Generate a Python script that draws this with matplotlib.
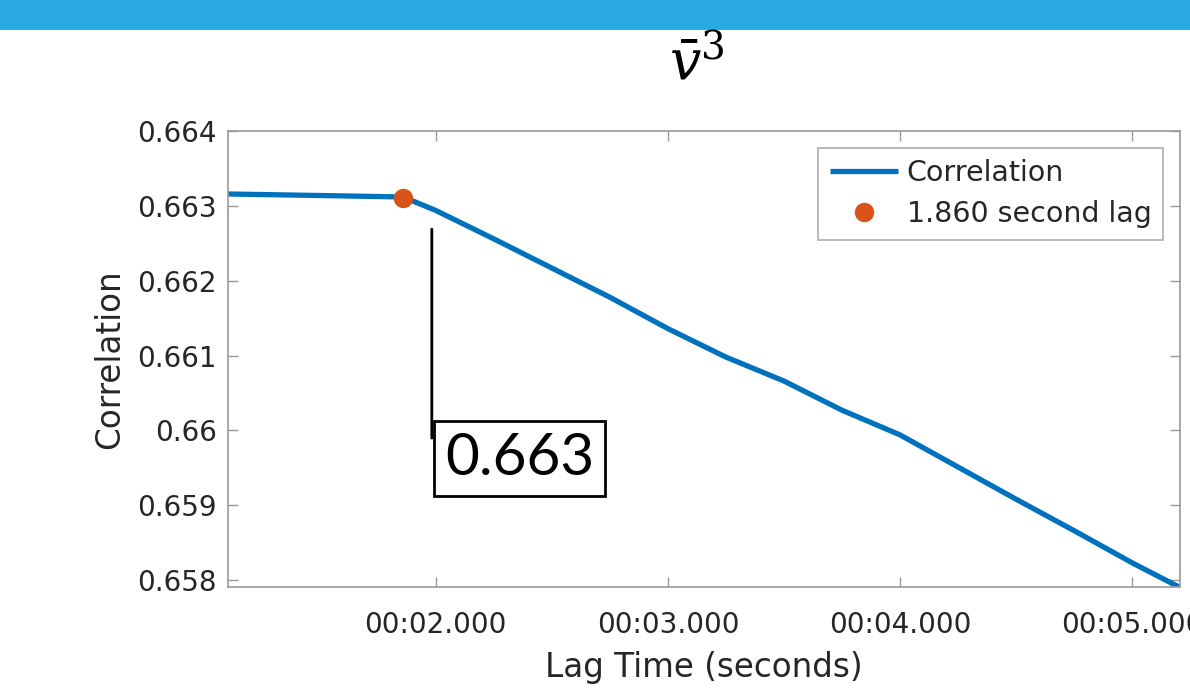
import matplotlib
matplotlib.use('Agg')
import matplotlib.pyplot as plt
from matplotlib.patches import Rectangle
from matplotlib.ticker import FixedLocator, FixedFormatter

# lag time (s) vs correlation
lag = [1.105, 1.50, 1.86, 2.0, 2.25, 2.5, 2.75, 3.0, 3.25, 3.5, 3.75,
       4.0, 4.25, 4.5, 4.75, 5.0, 5.2]
corr = [0.66316, 0.66314, 0.66312, 0.66294, 0.66256, 0.66217, 0.66178, 0.66136,
        0.66098, 0.66066, 0.66027, 0.65994, 0.65951, 0.65908, 0.65866, 0.65823,
        0.65791]
best_lag = 1.86
best_corr = 0.66311
note_x = 1.983
note_y = 0.66269
note_text = '0.663'

xticks = [2, 3, 4, 5]
xlabels = ['00:02.000', '00:03.000', '00:04.000', '00:05.000']
yticks = [0.658, 0.659, 0.660, 0.661, 0.662, 0.663, 0.664]
ylabels = ['0.658', '0.659', '0.66', '0.661', '0.662', '0.663', '0.664']

plt.rcParams['font.family'] = ['DejaVu Sans']
plt.rcParams['mathtext.fontset'] = 'dejavuserif'

fig = plt.figure(figsize=(11.9, 6.93), dpi=100)
fig.patches.append(Rectangle((0, 1 - 30 / 693), 1, 30 / 693, transform=fig.transFigure,
                             facecolor='#29a9e1', edgecolor='none'))
fig.text(697 / 1190, 1 - 64 / 693, r'$\bar{v}^3$', fontsize=40, ha='center', va='center')

ax = fig.add_axes([228 / 1190, 1 - 587 / 693, (1180 - 228) / 1190, (587 - 131) / 693])
ax.plot(lag, corr, color='#0072BD', lw=3.8, label='Correlation', solid_capstyle='butt')
ax.plot([best_lag], [best_corr], 'o', color='#D95319', ms=14, mec='none',
        label='%.3f second lag' % best_lag)

# callout: thin leader line down to a boxed value
ax.annotate('', xy=(note_x, note_y), xycoords='data',
            xytext=(0, -209), textcoords='offset pixels',
            arrowprops=dict(arrowstyle='-', color='black', lw=2, shrinkA=0, shrinkB=0))
ax.annotate(note_text, xy=(note_x, note_y), xycoords='data',
            xytext=(13, -203), textcoords='offset pixels',
            ha='left', va='top', fontsize=42, family='Lato', color='black',
            bbox=dict(boxstyle='square,pad=0.19', fc='white', ec='black', lw=2))

ax.set_xlim(1.105, 5.206)
ax.set_ylim(0.657907, 0.664002)
ax.xaxis.set_major_locator(FixedLocator(xticks))
ax.xaxis.set_major_formatter(FixedFormatter(xlabels))
ax.yaxis.set_major_locator(FixedLocator(yticks))
ax.yaxis.set_major_formatter(FixedFormatter(ylabels))
ax.tick_params(direction='in', length=7, width=1, color='#999999', labelcolor='#262626',
               labelsize=20, top=True, right=True)
ax.tick_params(axis='x', pad=17)
ax.tick_params(axis='y', pad=8)
for s in ax.spines.values():
    s.set_color('#999999')
    s.set_linewidth(1.2)
ax.set_xlabel('Lag Time (seconds)', fontsize=23.5, color='#262626', labelpad=9)
ax.set_ylabel('Correlation', fontsize=23.5, color='#262626', labelpad=8)

leg = ax.legend(loc='upper right', bbox_to_anchor=(1 - 17 / 952, 1 - 17 / 456),
                fontsize=20.5, frameon=True, fancybox=False, edgecolor='#999999',
                handlelength=2.4, handletextpad=0.3, borderpad=0.4,
                labelspacing=0.45, borderaxespad=0)
leg.get_frame().set_linewidth(1.2)
for t in leg.get_texts():
    t.set_color('#262626')

fig.savefig('out.png', dpi=100)
